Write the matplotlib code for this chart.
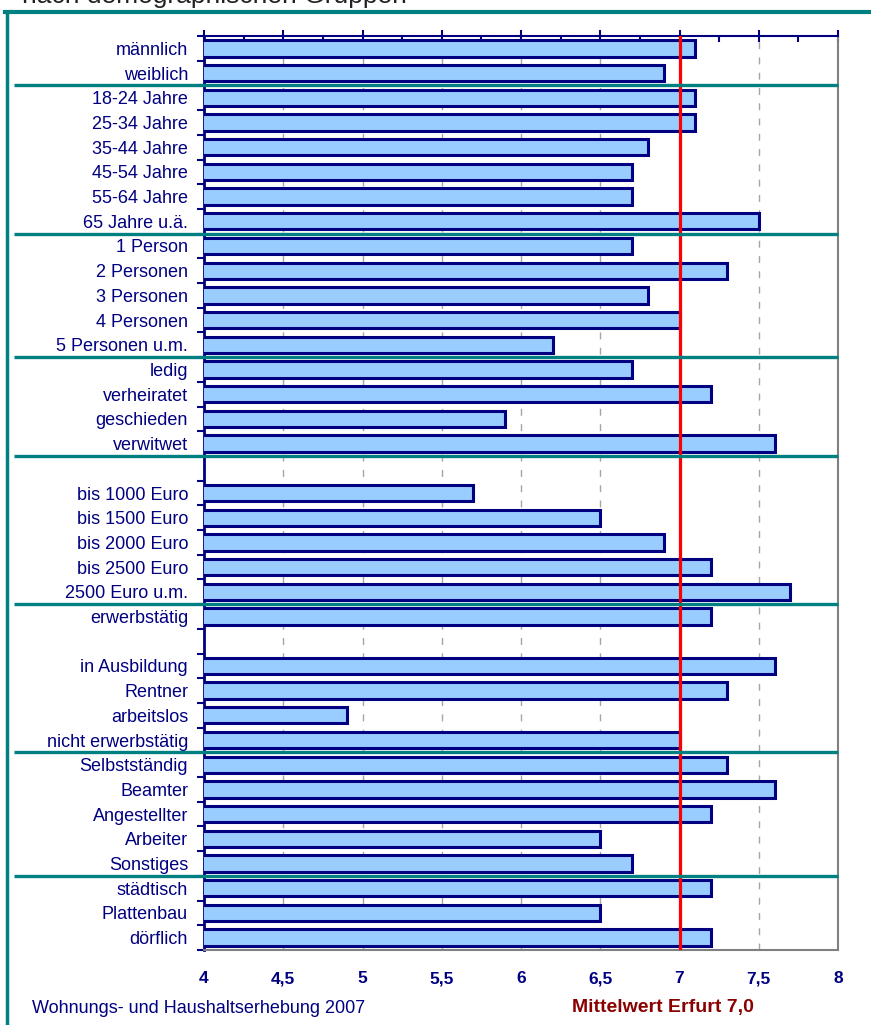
import matplotlib
matplotlib.use("Agg")
import matplotlib.pyplot as plt
import matplotlib.transforms as mtransforms
from matplotlib.lines import Line2D
from matplotlib.ticker import MultipleLocator

NAVY = "#000080"
BAR = "#99CCFF"
TEAL = "#008080"
GRID = "#A6A6A6"
DARKRED = "#8B0000"

plt.rcParams["font.family"] = ["Liberation Sans", "DejaVu Sans"]

# blank strings are the empty rows of the original chart
categories = [
    "männlich", "weiblich",
    "18-24 Jahre", "25-34 Jahre", "35-44 Jahre", "45-54 Jahre", "55-64 Jahre", "65 Jahre u.ä.",
    "1 Person", "2 Personen", "3 Personen", "4 Personen", "5 Personen u.m.",
    "ledig", "verheiratet", "geschieden", "verwitwet",
    "",
    "bis 1000 Euro", "bis 1500 Euro", "bis 2000 Euro", "bis 2500 Euro", "2500 Euro u.m.",
    "erwerbstätig",
    "",
    "in Ausbildung", "Rentner", "arbeitslos", "nicht erwerbstätig",
    "Selbstständig", "Beamter", "Angestellter", "Arbeiter", "Sonstiges",
    "städtisch", "Plattenbau", "dörflich",
]
values = [
    7.1, 6.9,
    7.1, 7.1, 6.8, 6.7, 6.7, 7.5,
    6.7, 7.3, 6.8, 7.0, 6.2,
    6.7, 7.2, 5.9, 7.6,
    None,
    5.7, 6.5, 6.9, 7.2, 7.7,
    7.2,
    None,
    7.6, 7.3, 4.9, 7.0,
    7.3, 7.6, 7.2, 6.5, 6.7,
    7.2, 6.5, 7.2,
]
# group separators: drawn after these categories
group_ends = ["weiblich", "65 Jahre u.ä.", "5 Personen u.m.", "verwitwet",
              "2500 Euro u.m.", "nicht erwerbstätig", "Sonstiges"]
x_ticks = [4, 4.5, 5, 5.5, 6, 6.5, 7, 7.5, 8]
x_ticklabels = ["4", "4,5", "5", "5,5", "6", "6,5", "7", "7,5", "8"]
mean_erfurt = 7.0

fig = plt.figure(figsize=(8.71, 10.25), dpi=100, facecolor="white")
ax = fig.add_axes([204 / 871, 1 - 950 / 1025, 634 / 871, 914 / 1025])

pos = [i for i, v in enumerate(values) if v is not None]
ax.barh(pos, [values[i] for i in pos], height=0.66, color=BAR,
        edgecolor=NAVY, linewidth=2.2, zorder=3)

ax.set_xlim(x_ticks[0], x_ticks[-1])
ax.set_ylim(len(categories) - 0.5, -0.5)

ax.set_yticks(range(len(categories)))
ax.set_yticklabels(categories)
ax.set_yticks([i + 0.5 for i in range(-1, len(categories))], minor=True)
ax.tick_params(axis="y", which="major", length=0, pad=11.5, labelsize=13, labelcolor=NAVY)
ax.tick_params(axis="y", which="minor", length=5, width=1.5, color=NAVY, direction="out")

ax.set_xticks(x_ticks)
ax.set_xticklabels(x_ticklabels)
ax.xaxis.set_minor_locator(MultipleLocator(0.25))
ax.tick_params(axis="x", which="major", bottom=False, top=True, labelbottom=True,
               direction="inout", length=8, width=1.5, color=NAVY, pad=20,
               labelsize=12.5, labelcolor=NAVY)
ax.tick_params(axis="x", which="minor", bottom=False, top=True,
               direction="in", length=4, width=1.5, color=NAVY)
plt.setp(ax.get_xticklabels(), fontweight="bold", va="baseline")

ax.grid(axis="x", which="major", color=GRID, linestyle=(0, (5, 6)), linewidth=1.0, zorder=0)
ax.set_axisbelow(True)

ax.spines["left"].set_color(NAVY)
ax.spines["left"].set_linewidth(2.0)
ax.spines["top"].set_color(NAVY)
ax.spines["top"].set_linewidth(1.5)
ax.spines["right"].set_color("#808080")
ax.spines["right"].set_linewidth(1.5)
ax.spines["bottom"].set_color("#808080")
ax.spines["bottom"].set_linewidth(1.5)

ax.axvline(mean_erfurt, color="#FF0000", linewidth=2.3, zorder=5)

# teal separators between the groups, reaching into the label area
trans = mtransforms.blended_transform_factory(ax.transAxes, ax.transData)
for name in group_ends:
    y = categories.index(name) + 0.5
    ax.plot([(14 - 204) / 634, 1.0], [y, y], color=TEAL, linewidth=2.4,
            transform=trans, clip_on=False, zorder=6, solid_capstyle="butt")

# outer frame and cut-off heading
fig.add_artist(Line2D([5 / 871, 1.0], [1 - 12 / 1025] * 2, color=TEAL, linewidth=3))
fig.add_artist(Line2D([7 / 871] * 2, [0, 1 - 12 / 1025], color=TEAL, linewidth=2.5))
fig.text(22 / 871, 1 - 3 / 1025, "nach demographischen Gruppen", fontsize=19,
         color="#222222", va="baseline", ha="left")

fig.text(32 / 871, 1 - 1013 / 1025, "Wohnungs- und Haushaltserhebung 2007",
         fontsize=13, color=NAVY, va="baseline", ha="left")
fig.text(572 / 871, 1 - 1012 / 1025, "Mittelwert Erfurt 7,0",
         fontsize=14, color=DARKRED, fontweight="bold", va="baseline", ha="left")

fig.savefig("out.png", dpi=100, facecolor="white")
